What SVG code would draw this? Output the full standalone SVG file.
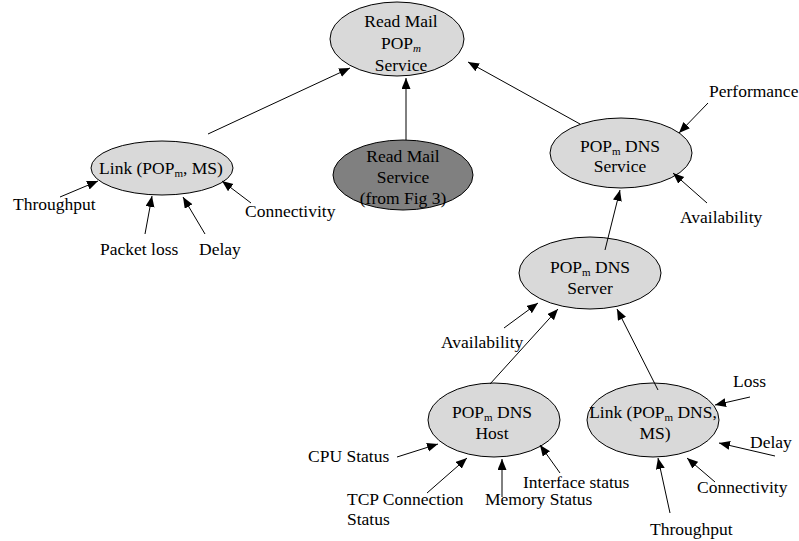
<svg xmlns="http://www.w3.org/2000/svg" width="799" height="541" viewBox="0 0 799 541">
  <style>
    text { font-family: "Liberation Serif", "Times New Roman", serif; font-size: 17.5px; fill: #000; }
    .mid { text-anchor: middle; }
    .sub { font-size: 11px; }
    .node { fill: #d9d9d9; stroke: #000; stroke-width: 1; }
    .ext { fill: #808080; stroke: #000; stroke-width: 1; }
    .edge { stroke: #000; stroke-width: 1; fill: none; marker-end: url(#ah); }
  </style>
  <defs>
    <marker id="ah" markerWidth="12" markerHeight="10" refX="11" refY="4.5" orient="auto" markerUnits="userSpaceOnUse">
      <path d="M0,0 L11,4.5 L0,9 z" fill="#000"/>
    </marker>
  </defs>
  <rect width="799" height="541" fill="#fff"/>

  <!-- service / component nodes -->
  <g id="read-mail-pop">
    <ellipse class="node" cx="397" cy="39" rx="67" ry="37"/>
    <text class="mid" x="401" y="27">Read Mail</text>
    <text class="mid" x="401" y="49">POP<tspan class="sub" font-style="italic" dy="3">m</tspan></text>
    <text class="mid" x="401" y="71">Service</text>
  </g>
  <g id="link-pop-ms">
    <ellipse class="node" cx="162" cy="168" rx="71" ry="27"/>
    <text class="mid" x="161" y="174">Link (POP<tspan class="sub" dy="3">m</tspan><tspan dy="-3">, MS)</tspan></text>
  </g>
  <g id="read-mail-ext">
    <ellipse class="ext" cx="403" cy="175" rx="70" ry="35"/>
    <text class="mid" x="403" y="162">Read Mail</text>
    <text class="mid" x="403" y="183">Service</text>
    <text class="mid" x="403" y="204">(from Fig 3)</text>
  </g>
  <g id="dns-service">
    <ellipse class="node" cx="621" cy="153" rx="71" ry="35"/>
    <text class="mid" x="620" y="152">POP<tspan class="sub" dy="3">m</tspan><tspan dy="-3"> DNS</tspan></text>
    <text class="mid" x="620" y="172">Service</text>
  </g>
  <g id="dns-server">
    <ellipse class="node" cx="590" cy="273" rx="71" ry="36"/>
    <text class="mid" x="590" y="273">POP<tspan class="sub" dy="3">m</tspan><tspan dy="-3"> DNS</tspan></text>
    <text class="mid" x="590" y="294">Server</text>
  </g>
  <g id="dns-host">
    <ellipse class="node" cx="494" cy="420" rx="66" ry="37"/>
    <text class="mid" x="492" y="418">POP<tspan class="sub" dy="3">m</tspan><tspan dy="-3"> DNS</tspan></text>
    <text class="mid" x="492" y="439">Host</text>
  </g>
  <g id="link-dns-ms">
    <ellipse class="node" cx="653" cy="420" rx="66" ry="37"/>
    <text class="mid" x="653" y="418">Link (POP<tspan class="sub" dy="3">m</tspan><tspan dy="-3"> DNS,</tspan></text>
    <text class="mid" x="655" y="439">MS)</text>
  </g>

  <!-- measured attributes -->
  <g id="attributes">
    <text x="13" y="210">Throughput</text>
    <text x="100" y="255">Packet loss</text>
    <text x="199" y="255">Delay</text>
    <text x="245" y="217">Connectivity</text>
    <text x="709" y="97">Performance</text>
    <text x="680" y="223">Availability</text>
    <text x="441" y="348">Availability</text>
    <text x="733" y="387">Loss</text>
    <text x="750" y="448">Delay</text>
    <text x="697" y="493">Connectivity</text>
    <text x="650" y="535">Throughput</text>
    <text x="308" y="462">CPU Status</text>
    <text x="347" y="505">TCP Connection</text>
    <text x="347" y="525">Status</text>
    <text x="485" y="505">Memory Status</text>
    <text x="523" y="488">Interface status</text>
  </g>

  <!-- dependency connectors -->
  <g id="connectors">
    <line class="edge" x1="208" y1="134" x2="350" y2="68"/>
    <line class="edge" x1="406" y1="140" x2="406" y2="78"/>
    <line class="edge" x1="580" y1="124" x2="468" y2="62"/>
    <line class="edge" x1="60" y1="197" x2="98" y2="181"/>
    <line class="edge" x1="145" y1="234" x2="152" y2="196"/>
    <line class="edge" x1="205" y1="234" x2="183" y2="197"/>
    <line class="edge" x1="251" y1="203" x2="222" y2="181"/>
    <line class="edge" x1="708" y1="103" x2="679" y2="133"/>
    <line class="edge" x1="707" y1="203" x2="673" y2="173"/>
    <line class="edge" x1="605" y1="250" x2="620" y2="190"/>
    <line class="edge" x1="504" y1="328" x2="538" y2="303"/>
    <line class="edge" x1="490" y1="384" x2="558" y2="309"/>
    <line class="edge" x1="658" y1="390" x2="617" y2="309"/>
    <line class="edge" x1="750" y1="397" x2="715" y2="405"/>
    <line class="edge" x1="775" y1="456" x2="719" y2="443"/>
    <line class="edge" x1="715" y1="482" x2="687" y2="458"/>
    <line class="edge" x1="670" y1="513" x2="658" y2="458"/>
    <line class="edge" x1="397" y1="457" x2="438" y2="444"/>
    <line class="edge" x1="427" y1="493" x2="467" y2="458"/>
    <line class="edge" x1="502" y1="497" x2="502" y2="459"/>
    <line class="edge" x1="560" y1="473" x2="540" y2="445"/>
  </g>
</svg>
